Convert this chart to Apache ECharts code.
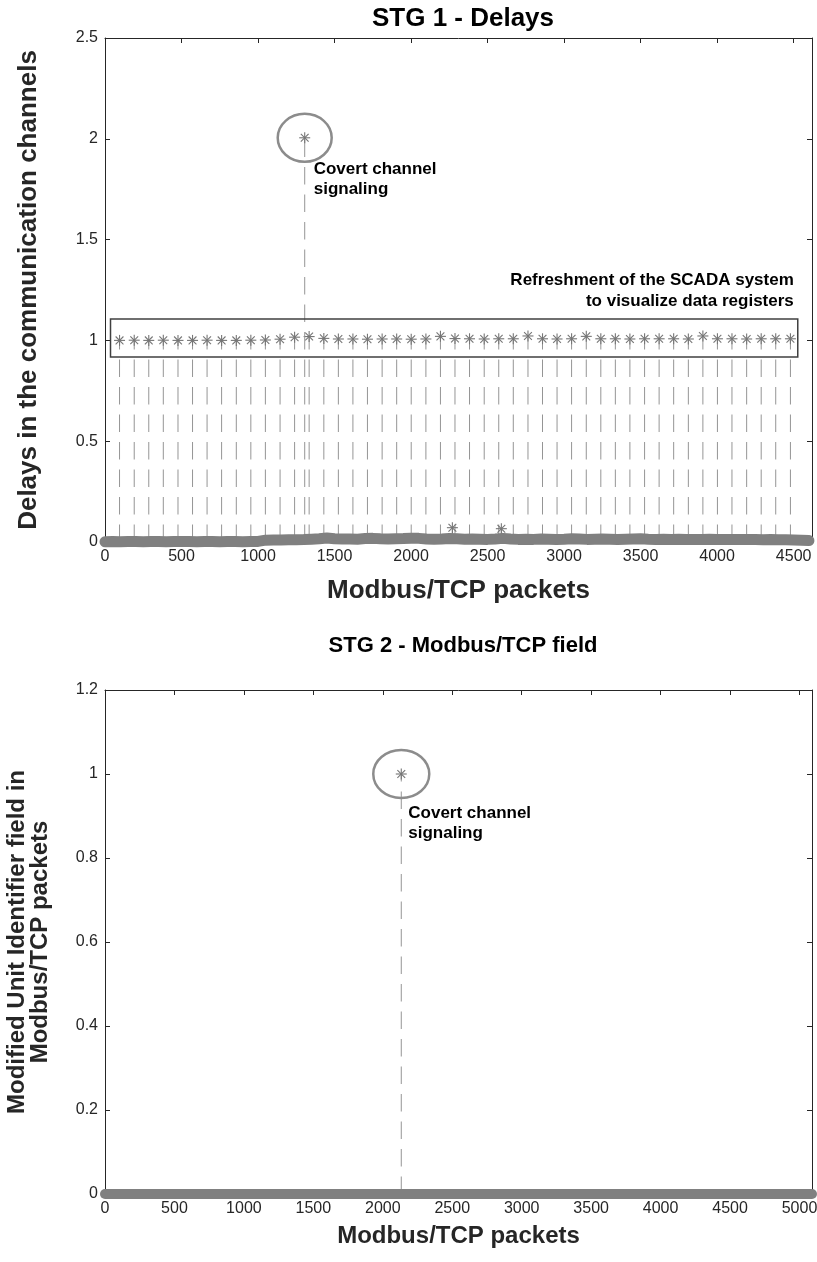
<!DOCTYPE html>
<html>
<head>
<meta charset="utf-8">
<script src="https://cdn.jsdelivr.net/npm/echarts@6/dist/echarts.min.js"></script>
<style>
html,body{margin:0;padding:0;background:#fff;}
#chart{width:817px;height:1262px;}
</style>
</head>
<body>
<div id="chart"></div>
<script>
// ---------------- DATA ----------------
// STG 1 - periodic SCADA refresh delays (packet index, delay)
const stg1SpikePackets = [95,191,286,381,477,572,667,762,858,953,1048,1144,1239,1334,1430,1525,1620,1715,1811,1906,2001,2097,2192,2287,2382,2478,2573,2668,2764,2859,2954,3049,3145,3240,3335,3430,3526,3621,3716,3812,3907,4002,4097,4193,4288,4383,4479];
const stg1SpikeDelays = [1.000,1.001,1.000,1.001,1.000,1.000,1.001,1.000,1.000,1.001,1.002,1.006,1.016,1.019,1.010,1.007,1.007,1.006,1.007,1.007,1.006,1.007,1.020,1.009,1.008,1.007,1.008,1.008,1.022,1.008,1.007,1.008,1.020,1.008,1.008,1.007,1.008,1.008,1.008,1.007,1.022,1.008,1.008,1.007,1.008,1.008,1.008];
// small isolated peaks in the baseline
const stg1MinorPackets = [2270, 2590];
const stg1MinorDelays = [0.071, 0.066];
// covert channel signal
const stg1CovertPacket = 1305;
const stg1CovertDelay = 2.005;
// baseline of the delays (sampled every 50 packets)
const stg1BasePackets = [0,50,100,150,200,250,300,350,400,450,500,550,600,650,700,750,800,850,900,950,1000,1050,1100,1150,1200,1250,1300,1350,1400,1450,1500,1550,1600,1650,1700,1750,1800,1850,1900,1950,2000,2050,2100,2150,2200,2250,2300,2350,2400,2450,2500,2550,2600,2650,2700,2750,2800,2850,2900,2950,3000,3050,3100,3150,3200,3250,3300,3350,3400,3450,3500,3550,3600,3650,3700,3750,3800,3850,3900,3950,4000,4050,4100,4150,4200,4250,4300,4350,4400,4450,4500,4550,4600];
const stg1BaseDelays = [0.001,0.002,0.001,0.002,0.002,0.001,0.002,0.002,0.001,0.002,0.003,0.002,0.001,0.002,0.002,0.001,0.002,0.002,0.001,0.002,0.003,0.009,0.010,0.010,0.011,0.011,0.012,0.014,0.016,0.020,0.016,0.015,0.015,0.014,0.017,0.018,0.016,0.015,0.016,0.017,0.019,0.018,0.015,0.014,0.015,0.017,0.016,0.014,0.015,0.014,0.013,0.015,0.018,0.015,0.013,0.014,0.013,0.015,0.014,0.013,0.014,0.016,0.015,0.013,0.014,0.015,0.014,0.013,0.014,0.015,0.016,0.014,0.013,0.014,0.013,0.014,0.013,0.012,0.013,0.014,0.013,0.012,0.013,0.012,0.013,0.012,0.011,0.012,0.011,0.011,0.010,0.009,0.007];
// annotation box around the refresh peaks
const stg1BoxCorners = [[36, 0.918], [4527, 1.106]];

// STG 2 - Modified Unit Identifier field
const stg2CovertPacket = 2133;
const stg2CovertValue = 1;
const stg2BasePackets = [0,100,200,300,400,500,600,700,800,900,1000,1100,1200,1300,1400,1500,1600,1700,1800,1900,2000,2100,2200,2300,2400,2500,2600,2700,2800,2900,3000,3100,3200,3300,3400,3500,3600,3700,3800,3900,4000,4100,4200,4300,4400,4500,4600,4700,4800,4900,5000,5090];
const stg2BaseValues = [0,0,0,0,0,0,0,0,0,0,0,0,0,0,0,0,0,0,0,0,0,0,0,0,0,0,0,0,0,0,0,0,0,0,0,0,0,0,0,0,0,0,0,0,0,0,0,0,0,0,0,0];

// axes
const stg1XMax = 4620, stg1XInterval = 500, stg1YMax = 2.5, stg1YInterval = 0.5;
const stg2XMax = 5090, stg2XInterval = 500, stg2YMax = 1.2, stg2YInterval = 0.2;

// ---------------- STYLE ----------------
const FONT = '"Liberation Sans", Arial, Helvetica, sans-serif';
const AX = '#262626';
const MARK = '#767676';
const STEM = '#959595';

function zip(a, b) { return a.map((v, i) => [v, b[i]]); }

function stemRender(params, api) {
  const x = api.value(0), y = api.value(1);
  const top = api.coord([x, y]);
  const base = api.coord([x, 0]);
  const r = 5.5, d = 3.9;
  const ls = { stroke: MARK, lineWidth: 1.1 };
  return {
    type: 'group',
    children: [
      { type: 'line', shape: { x1: base[0], y1: base[1], x2: top[0], y2: top[1] },
        style: { stroke: STEM, lineWidth: 1, lineDash: [17.5, 10] } },
      { type: 'group', x: top[0], y: top[1], children: [
        { type: 'line', shape: { x1: -r, y1: 0, x2: r, y2: 0 }, style: ls },
        { type: 'line', shape: { x1: 0, y1: -r, x2: 0, y2: r }, style: ls },
        { type: 'line', shape: { x1: -d, y1: -d, x2: d, y2: d }, style: ls },
        { type: 'line', shape: { x1: -d, y1: d, x2: d, y2: -d }, style: ls }
      ]}
    ]
  };
}

function mainX(gridIndex, max, interval, name, gap, nameSize) {
  return {
    type: 'value', gridIndex, position: 'bottom', min: 0, max, interval,
    name, nameLocation: 'middle', nameGap: gap,
    nameTextStyle: { fontFamily: FONT, fontWeight: 'bold', fontSize: nameSize, color: AX },
    axisLine: { show: true, onZero: false, lineStyle: { color: AX, width: 1 } },
    axisTick: { show: true, inside: true, length: 5, lineStyle: { color: AX } },
    axisLabel: { fontFamily: FONT, fontSize: 16, color: AX, margin: 7, showMaxLabel: false,
                 formatter: v => String(v) },
    splitLine: { show: false }
  };
}
function sideX(gridIndex, max, interval) {
  return {
    type: 'value', gridIndex, position: 'top', min: 0, max, interval,
    axisLine: { show: true, onZero: false, lineStyle: { color: AX, width: 1 } },
    axisTick: { show: true, inside: true, length: 5, lineStyle: { color: AX } },
    axisLabel: { show: false }, splitLine: { show: false }
  };
}
function mainY(gridIndex, max, interval, name, gap, nameSize) {
  return {
    type: 'value', gridIndex, position: 'left', min: 0, max, interval,
    name, nameLocation: 'middle', nameGap: gap, nameRotate: 90,
    nameTextStyle: { fontFamily: FONT, fontWeight: 'bold', fontSize: nameSize, color: AX, lineHeight: 23 },
    axisLine: { show: true, onZero: false, lineStyle: { color: AX, width: 1 } },
    axisTick: { show: true, inside: true, length: 5, lineStyle: { color: AX } },
    axisLabel: { fontFamily: FONT, fontSize: 16, color: AX, margin: 7 },
    splitLine: { show: false }
  };
}
function sideY(gridIndex, max, interval) {
  return {
    type: 'value', gridIndex, position: 'right', min: 0, max, interval,
    axisLine: { show: true, onZero: false, lineStyle: { color: AX, width: 1 } },
    axisTick: { show: true, inside: true, length: 5, lineStyle: { color: AX } },
    axisLabel: { show: false }, splitLine: { show: false }
  };
}

const chart = echarts.init(document.getElementById('chart'), null, { renderer: 'canvas' });

const stg1Stems = zip(stg1SpikePackets, stg1SpikeDelays)
  .concat(zip(stg1MinorPackets, stg1MinorDelays))
  .concat([[stg1CovertPacket, stg1CovertDelay]]);
const stg2Stems = [[stg2CovertPacket, stg2CovertValue]];

const option = {
  backgroundColor: '#ffffff',
  animation: false,
  title: [
    { text: 'STG 1 - Delays', left: 458, top: 1, textAlign: 'center',
      textStyle: { fontFamily: FONT, fontWeight: 'bold', fontSize: 26, color: '#000' } },
    { text: 'STG 2 - Modbus/TCP field', left: 458, top: 630, textAlign: 'center',
      textStyle: { fontFamily: FONT, fontWeight: 'bold', fontSize: 22, color: '#000' } }
  ],
  grid: [
    { left: 105, top: 38, width: 707, height: 504, outerBoundsMode: 'none', containLabel: false },
    { left: 105, top: 690, width: 707, height: 504, outerBoundsMode: 'none', containLabel: false }
  ],
  xAxis: [
    mainX(0, stg1XMax, stg1XInterval, 'Modbus/TCP packets', 36, 26),
    sideX(0, stg1XMax, stg1XInterval),
    mainX(1, stg2XMax, stg2XInterval, 'Modbus/TCP packets', 30, 24),
    sideX(1, stg2XMax, stg2XInterval)
  ],
  yAxis: [
    mainY(0, stg1YMax, stg1YInterval, 'Delays in the communication channels', 65, 26),
    sideY(0, stg1YMax, stg1YInterval),
    mainY(1, stg2YMax, stg2YInterval, 'Modified Unit Identifier field in\nModbus/TCP packets', 53, 24),
    sideY(1, stg2YMax, stg2YInterval)
  ],
  series: [
    { type: 'custom', name: 'STG1 stems', xAxisIndex: 0, yAxisIndex: 0, z: 2,
      renderItem: stemRender, data: stg1Stems, clip: false },
    { type: 'line', name: 'STG1 baseline', xAxisIndex: 0, yAxisIndex: 0, z: 4,
      data: zip(stg1BasePackets, stg1BaseDelays), showSymbol: false, symbol: 'none', clip: false,
      lineStyle: { color: '#808080', width: 11, cap: 'round', join: 'round' } },
    { type: 'custom', name: 'STG2 stems', xAxisIndex: 2, yAxisIndex: 2, z: 2,
      renderItem: stemRender, data: stg2Stems, clip: false },
    { type: 'line', name: 'STG2 baseline', xAxisIndex: 2, yAxisIndex: 2, z: 4,
      data: zip(stg2BasePackets, stg2BaseValues), showSymbol: false, symbol: 'none', clip: false,
      lineStyle: { color: '#808080', width: 10, cap: 'round', join: 'round' } }
  ]
};
chart.setOption(option);

// ---------------- ANNOTATIONS (positioned from data) ----------------
const c1 = chart.convertToPixel({ seriesIndex: 0 }, [stg1CovertPacket, stg1CovertDelay]);
const c2 = chart.convertToPixel({ seriesIndex: 2 }, [stg2CovertPacket, stg2CovertValue]);
const b0 = chart.convertToPixel({ seriesIndex: 0 }, stg1BoxCorners[0]);
const b1 = chart.convertToPixel({ seriesIndex: 0 }, stg1BoxCorners[1]);
const bx = Math.min(b0[0], b1[0]), by = Math.min(b0[1], b1[1]);
const bw = Math.abs(b1[0] - b0[0]), bh = Math.abs(b1[1] - b0[1]);
const annFont = 'bold 17px ' + FONT;

chart.setOption({
  graphic: [
    { type: 'rect', z: 10, shape: { x: bx, y: by, width: bw, height: bh },
      style: { fill: 'none', stroke: '#404040', lineWidth: 1.5 } },
    { type: 'text', z: 10, x: bx + bw - 4, y: by - 7,
      style: { text: 'Refreshment of the SCADA system\nto visualize data registers', font: annFont,
               fill: '#000', align: 'right', verticalAlign: 'bottom', lineHeight: 21 } },
    { type: 'ellipse', z: 10, shape: { cx: c1[0], cy: c1[1], rx: 27, ry: 24 },
      style: { fill: 'none', stroke: '#8c8c8c', lineWidth: 2.5 } },
    { type: 'text', z: 10, x: c1[0] + 9, y: c1[1] + 22,
      style: { text: 'Covert channel\nsignaling', font: annFont, fill: '#000',
               align: 'left', verticalAlign: 'top', lineHeight: 20 } },
    { type: 'ellipse', z: 10, shape: { cx: c2[0], cy: c2[1], rx: 28, ry: 24 },
      style: { fill: 'none', stroke: '#8c8c8c', lineWidth: 2.5 } },
    { type: 'text', z: 10, x: c2[0] + 7, y: c2[1] + 29,
      style: { text: 'Covert channel\nsignaling', font: annFont, fill: '#000',
               align: 'left', verticalAlign: 'top', lineHeight: 20 } }
  ]
});
</script>
</body>
</html>
